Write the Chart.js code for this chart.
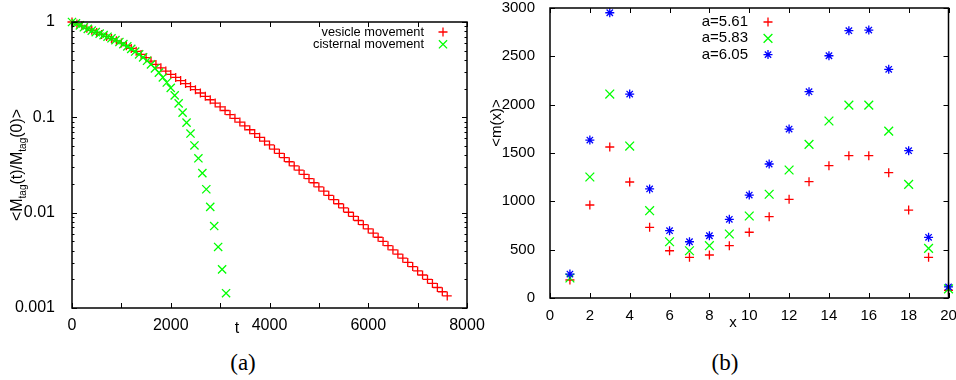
<!DOCTYPE html>
<html>
<head>
<meta charset="utf-8">
<script src="https://cdn.jsdelivr.net/npm/chart.js@4.4.1/dist/chart.umd.min.js"></script>
<style>
  body { margin: 0; background: #fff; width: 956px; height: 380px; overflow: hidden; position: relative; }
  canvas { position: absolute; top: 0; }
  #decay { left: 0; }
  #profile { left: 480px; }
  .cap { position: absolute; top: 350px; font: 23px "Liberation Serif", "DejaVu Serif", serif; transform: translateX(-50%); color: #000; }
</style>
</head>
<body>
<canvas id="decay" width="500" height="340"></canvas>
<canvas id="profile" width="476" height="340"></canvas>
<div class="cap" style="left:243px">(a)</div>
<div class="cap" style="left:725px">(b)</div>
<script>
// (a) tagged mass remaining over time
const vesicleTime = [0, 100, 200, 300, 400, 500, 600, 700, 800, 900,
  1000, 1100, 1200, 1300, 1400, 1500, 1600, 1700, 1800, 1900,
  2000, 2100, 2200, 2300, 2400, 2500, 2600, 2700, 2800, 2900,
  3000, 3100, 3200, 3300, 3400, 3500, 3600, 3700, 3800, 3900,
  4000, 4100, 4200, 4300, 4400, 4500, 4600, 4700, 4800, 4900,
  5000, 5100, 5200, 5300, 5400, 5500, 5600, 5700, 5800, 5900,
  6000, 6100, 6200, 6300, 6400, 6500, 6600, 6700, 6800, 6900,
  7000, 7100, 7200, 7300, 7400, 7500, 7600];
const vesicleRatio = [1, 0.955, 0.912, 0.861, 0.819, 0.776, 0.741, 0.705, 0.670, 0.635,
  0.603, 0.565, 0.528, 0.493, 0.457, 0.422, 0.389, 0.359, 0.331, 0.306,
  0.282, 0.262, 0.243, 0.226, 0.210, 0.195, 0.180, 0.166, 0.153, 0.141,
  0.129, 0.118, 0.107, 0.0977, 0.0891, 0.0813, 0.0741, 0.0676, 0.0617, 0.0562,
  0.0513, 0.0463, 0.0419, 0.0378, 0.0342, 0.0309, 0.0279, 0.0252, 0.0228, 0.0206,
  0.0186, 0.0168, 0.0152, 0.0137, 0.0124, 0.0112, 0.0101, 0.00916, 0.00828, 0.00748,
  0.00676, 0.00611, 0.00552, 0.00499, 0.00451, 0.00407, 0.00368, 0.00333, 0.00301, 0.00272,
  0.00245, 0.00222, 0.00200, 0.00181, 0.00164, 0.00148, 0.00134];
const cisternalTime = [0, 80, 160, 240, 320, 400, 480, 560, 640, 720,
  800, 880, 960, 1040, 1120, 1200, 1280, 1360, 1440, 1520,
  1600, 1680, 1760, 1840, 1920, 2000, 2080, 2160, 2240, 2320,
  2400, 2480, 2560, 2640, 2720, 2800, 2880, 2960, 3040, 3120];
const cisternalRatio = [1, 0.966, 0.923, 0.881, 0.847, 0.813, 0.783, 0.755, 0.728, 0.701,
  0.675, 0.646, 0.617, 0.586, 0.555, 0.522, 0.490, 0.457, 0.425, 0.392,
  0.359, 0.326, 0.294, 0.262, 0.232, 0.204, 0.170, 0.140, 0.112, 0.0881,
  0.0676, 0.0507, 0.0372, 0.0260, 0.0176, 0.0115, 0.00724, 0.00437, 0.00254, 0.00143];
const timeTicks = ['0', '2000', '4000', '6000', '8000'];
const timeTickMarks = [0, 1000, 2000, 3000, 4000, 5000, 6000, 7000, 8000];
const ratioTicks = ['0.001', '0.01', '0.1', '1'];

// (b) mean mass profile for three values of a
const positions = [1, 2, 3, 4, 5, 6, 7, 8, 9, 10, 11, 12, 13, 14, 15, 16, 17, 18, 19, 20];
const massA561 = [186, 962, 1562, 1200, 731, 489, 421, 445, 541, 680, 841, 1021, 1203, 1369, 1472, 1472, 1296, 910, 421, 80];
const massA583 = [207, 1252, 2110, 1572, 903, 582, 489, 541, 662, 848, 1073, 1324, 1590, 1831, 1996, 1996, 1727, 1176, 514, 95];
const massA605 = [248, 1634, 2951, 2110, 1128, 696, 582, 644, 814, 1065, 1386, 1748, 2134, 2506, 2765, 2772, 2366, 1524, 628, 115];
const positionTicks = ['0', '2', '4', '6', '8', '10', '12', '14', '16', '18', '20'];
const massTicks = ['0', '500', '1000', '1500', '2000', '2500', '3000'];

const FONT = '"Liberation Sans", Arial, sans-serif';

const pairs = (xs, ys) => xs.map((x, i) => ({ x: x, y: ys[i] }));

function drawMark(ctx, style, x, y, r) {
  ctx.beginPath();
  if (style === 'cross' || style === 'star') {
    ctx.moveTo(x - r, y); ctx.lineTo(x + r, y);
    ctx.moveTo(x, y - r); ctx.lineTo(x, y + r);
  }
  if (style === 'crossRot' || style === 'star') {
    const d = r * Math.SQRT1_2;
    ctx.moveTo(x - d, y - d); ctx.lineTo(x + d, y + d);
    ctx.moveTo(x - d, y + d); ctx.lineTo(x + d, y - d);
  }
  ctx.stroke();
}

// border box with inward ticks on all four sides
const frameAndTicks = {
  id: 'frameAndTicks',
  afterDatasetsDraw(chart, args, o) {
    const { ctx, chartArea: a } = chart;
    const xs = chart.scales.x, ys = chart.scales.y;
    ctx.save();
    ctx.strokeStyle = '#000';
    ctx.lineWidth = 1;
    ctx.beginPath();
    o.xMarks.forEach(v => {
      const p = Math.round(xs.getPixelForValue(v)) + 0.5;
      ctx.moveTo(p, a.bottom); ctx.lineTo(p, a.bottom - o.major);
      ctx.moveTo(p, a.top); ctx.lineTo(p, a.top + o.major);
    });
    const yTick = (v, len) => {
      const p = Math.round(ys.getPixelForValue(v)) + 0.5;
      ctx.moveTo(a.left, p); ctx.lineTo(a.left + len, p);
      ctx.moveTo(a.right, p); ctx.lineTo(a.right - len, p);
    };
    o.yMarks.forEach(v => yTick(v, o.major));
    (o.yMinor || []).forEach(v => yTick(v, o.minor));
    ctx.stroke();
    ctx.lineWidth = 1.5;
    ctx.strokeRect(a.left, a.top, a.right - a.left, a.bottom - a.top);
    ctx.restore();
  }
};

// axis titles; the y title can carry subscripts
const axisTitles = {
  id: 'axisTitles',
  afterDraw(chart, args, o) {
    const ctx = chart.ctx;
    const main = `${o.size}px ${FONT}`;
    const sub = `${o.subSize}px ${FONT}`;
    ctx.save();
    ctx.fillStyle = '#000';
    ctx.font = main;
    ctx.textAlign = 'center';
    ctx.textBaseline = 'alphabetic';
    ctx.fillText(o.x.text, o.x.cx, o.x.baseline);
    const widths = o.y.parts.map(([s, isSub]) => {
      ctx.font = isSub ? sub : main;
      return ctx.measureText(s).width;
    });
    const total = widths.reduce((s, w) => s + w, 0);
    ctx.translate(o.y.baseline, o.y.cy);
    ctx.rotate(-Math.PI / 2);
    ctx.textAlign = 'left';
    let pos = -total / 2;
    o.y.parts.forEach(([s, isSub], i) => {
      ctx.font = isSub ? sub : main;
      ctx.fillText(s, pos, isSub ? o.subShift : 0);
      pos += widths[i];
    });
    ctx.restore();
  }
};

// key: label right-aligned, sample mark to its right
const keyBox = {
  id: 'keyBox',
  afterDraw(chart, args, o) {
    const ctx = chart.ctx;
    ctx.save();
    ctx.font = `${o.size}px ${FONT}`;
    ctx.textAlign = 'right';
    ctx.textBaseline = 'middle';
    chart.data.datasets.forEach((ds, i) => {
      const y = o.top + i * o.row;
      ctx.fillStyle = '#000';
      ctx.fillText(ds.label, o.textRight, y);
      ctx.strokeStyle = ds.pointBorderColor;
      ctx.lineWidth = ds.pointBorderWidth;
      drawMark(ctx, ds.pointStyle, o.markX, y, ds.pointRadius);
    });
    ctx.restore();
  }
};

const fixSize = size => axis => {
  if (axis.isHorizontal()) axis.height = size; else axis.width = size;
  axis.paddingLeft = axis.paddingRight = axis.paddingTop = axis.paddingBottom = 0;
};

const logMinor = [];
[0.001, 0.01, 0.1].forEach(d => { for (let k = 2; k <= 9; k++) logMinor.push(d * k); });

const mark = (label, data, style, color, radius, order) => ({
  label: label,
  data: data,
  pointStyle: style,
  pointRadius: radius,
  pointHoverRadius: radius,
  pointBorderColor: color,
  pointBackgroundColor: color,
  pointBorderWidth: 1.3,
  showLine: false,
  clip: false,
  order: order
});

new Chart(document.getElementById('decay'), {
  type: 'scatter',
  data: {
    datasets: [
      mark('vesicle movement', pairs(vesicleTime, vesicleRatio), 'cross', '#ff0000', 4.5, 1),
      mark('cisternal movement', pairs(cisternalTime, cisternalRatio), 'crossRot', '#00ff00', 5.8, 0)
    ]
  },
  options: {
    responsive: false,
    animation: false,
    devicePixelRatio: 1,
    events: [],
    layout: { padding: { top: 22, right: 33, bottom: 0, left: 0 } },
    scales: {
      x: {
        type: 'linear', min: 0, max: 8000,
        grid: { display: false }, border: { display: false },
        afterBuildTicks: s => { s.ticks = timeTicks.map(v => ({ value: Number(v) })); },
        afterFit: fixSize(32),
        ticks: {
          autoSkip: false, maxRotation: 0, padding: 0, color: '#000',
          font: { family: FONT, size: 16 },
          callback: (v, i) => timeTicks[i]
        }
      },
      y: {
        type: 'logarithmic', min: 0.001, max: 1,
        grid: { display: false }, border: { display: false },
        afterBuildTicks: s => { s.ticks = ratioTicks.map(v => ({ value: Number(v) })); },
        afterFit: fixSize(72),
        ticks: {
          autoSkip: false, padding: 9, color: '#000',
          font: { family: FONT, size: 16 },
          callback: (v, i) => ratioTicks[i]
        }
      }
    },
    plugins: {
      legend: { display: false },
      tooltip: { enabled: false },
      frameAndTicks: { xMarks: timeTickMarks, yMarks: ratioTicks.map(Number), yMinor: logMinor, major: 5, minor: 2.5 },
      axisTitles: {
        size: 16, subSize: 10, subShift: 4,
        x: { text: 't', cx: 237, baseline: 333 },
        y: { baseline: 22, cy: 165, parts: [['<M', false], ['tag', true], ['(t)/M', false], ['tag', true], ['(0)>', false]] }
      },
      keyBox: { size: 12.8, textRight: 424, markX: 443, top: 32, row: 12.3 }
    }
  },
  plugins: [frameAndTicks, axisTitles, keyBox]
});

new Chart(document.getElementById('profile'), {
  type: 'scatter',
  data: {
    datasets: [
      mark('a=5.61', pairs(positions, massA561), 'cross', '#ff0000', 4.5, 2),
      mark('a=5.83', pairs(positions, massA583), 'crossRot', '#00ff00', 6.2, 1),
      mark('a=6.05', pairs(positions, massA605), 'star', '#0000ff', 4.5, 0)
    ]
  },
  options: {
    responsive: false,
    animation: false,
    devicePixelRatio: 1,
    events: [],
    layout: { padding: { top: 8, right: 2, bottom: 0, left: 0 } },
    scales: {
      x: {
        type: 'linear', min: 0, max: 20,
        grid: { display: false }, border: { display: false },
        afterBuildTicks: s => { s.ticks = positionTicks.map(v => ({ value: Number(v) })); },
        afterFit: fixSize(42),
        ticks: {
          autoSkip: false, maxRotation: 0, padding: 1, color: '#000',
          font: { family: FONT, size: 15 },
          callback: (v, i) => positionTicks[i]
        }
      },
      y: {
        type: 'linear', min: 0, max: 3000,
        grid: { display: false }, border: { display: false },
        afterBuildTicks: s => { s.ticks = massTicks.map(v => ({ value: Number(v) })); },
        afterFit: fixSize(70),
        ticks: {
          autoSkip: false, padding: 7, color: '#000',
          font: { family: FONT, size: 15 },
          callback: (v, i) => massTicks[i]
        }
      }
    },
    plugins: {
      legend: { display: false },
      tooltip: { enabled: false },
      frameAndTicks: { xMarks: positionTicks.map(Number), yMarks: massTicks.map(Number), major: 5, minor: 0 },
      axisTitles: {
        size: 15, subSize: 10, subShift: 4,
        x: { text: 'x', cx: 253, baseline: 327 },
        y: { baseline: 21, cy: 123, parts: [['<m(x)>', false]] }
      },
      keyBox: { size: 15, textRight: 268, markX: 288, top: 22, row: 16.3 }
    }
  },
  plugins: [frameAndTicks, axisTitles, keyBox]
});
</script>
</body>
</html>
